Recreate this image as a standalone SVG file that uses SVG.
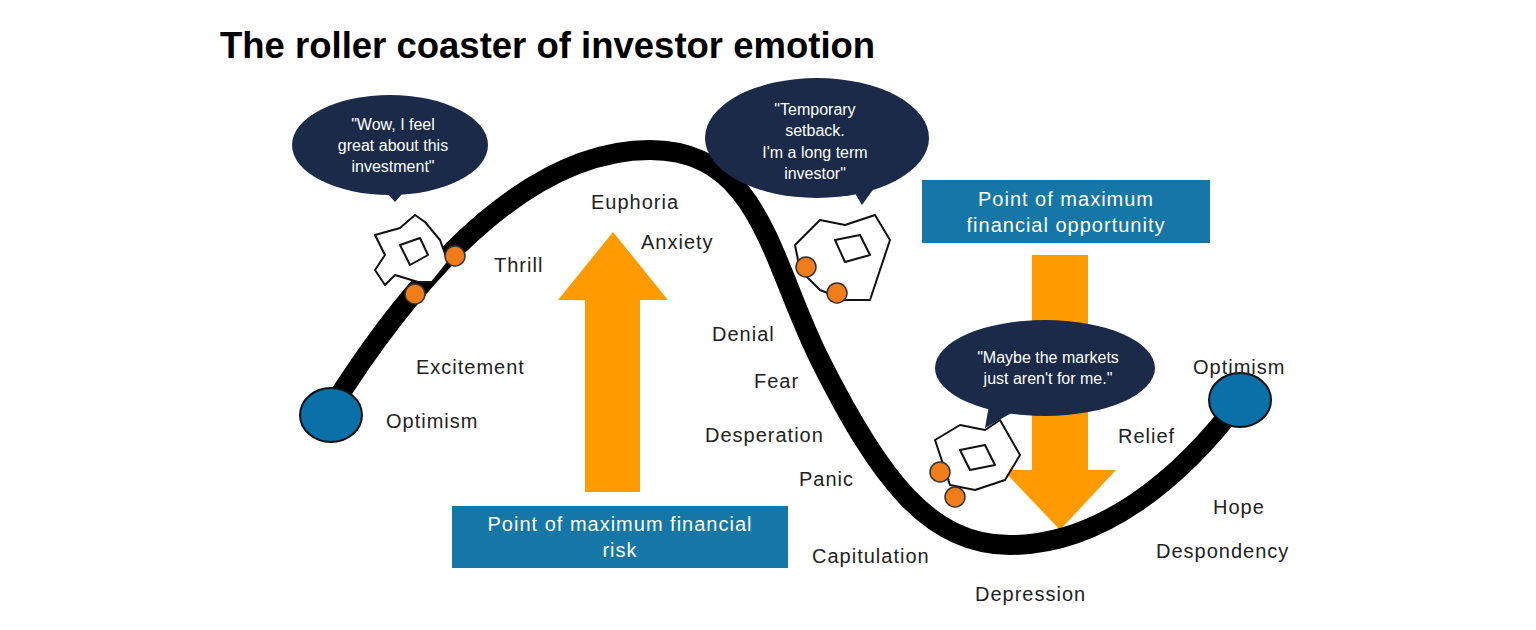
<svg xmlns="http://www.w3.org/2000/svg" width="1536" height="630" viewBox="0 0 1536 630">
<style>
.lbl{font-family:"Liberation Sans",Arial,sans-serif;font-size:20px;letter-spacing:1px;fill:#222}
.bub{fill:#1a2a48}
.bt{font-family:"Liberation Sans",Arial,sans-serif;font-size:16px;fill:#fff;text-anchor:middle}
.box{fill:#1576a8}
.boxt{font-family:"Liberation Sans",Arial,sans-serif;font-size:20px;letter-spacing:1px;fill:#fff;text-anchor:middle}
.arr{fill:#ff9a00}
.dot{fill:#f07d1a;stroke:#333;stroke-width:1.5}
.fig{fill:#fff;stroke:#111;stroke-width:2;stroke-linejoin:round}
.end{fill:#0b6fa8;stroke:#111;stroke-width:2}
</style>
<rect width="1536" height="630" fill="#fff"/>
<text x="220" y="58" font-family="Liberation Sans,Arial,sans-serif" font-size="36.5" font-weight="bold" fill="#000">The roller coaster of investor emotion</text>
<g id="arrows">
<path class="arr" d="M585,492 V300 H558 L613,232 L668,300 H640 V492 Z"/>
<path class="arr" d="M1032,255 V470 H1003 L1060,530 L1116,470 H1088 V255 Z"/>
</g>
<g id="connectors">
<path d="M330,410 C430,250 540,150 650,150 C760,150 770,260 820,360 C880,480 930,545 1010,545 C1100,545 1180,480 1240,400" fill="none" stroke="#000" stroke-width="20"/>
</g>
<g id="start"><ellipse class="end" cx="331" cy="415" rx="31" ry="27"/></g>
<g id="finish"><ellipse class="end" cx="1240" cy="400" rx="31" ry="27"/></g>
<g id="figures">
<path class="fig" d="M375,235 L400,228 L415,215 L425,222 L440,240 L448,262 L432,282 L418,282 L395,275 L385,285 L375,270 L385,255 Z"/>
<path class="fig" d="M400,245 L420,238 L428,255 L410,265 Z" fill="#222"/>
<path class="fig" d="M795,245 L820,220 L845,225 L875,215 L890,240 L880,270 L870,300 L845,300 L820,290 L800,270 Z"/>
<path class="fig" d="M835,240 L860,235 L870,255 L845,262 Z"/>
<path class="fig" d="M935,440 L960,425 L985,430 L1000,420 L1020,455 L1005,480 L975,490 L950,485 Z"/>
<path class="fig" d="M960,450 L985,445 L995,465 L970,470 Z" fill="#222"/>
</g>
<g id="dots">
<circle class="dot" cx="455" cy="256" r="10"/>
<circle class="dot" cx="415" cy="294" r="10"/>
<circle class="dot" cx="806" cy="267" r="10"/>
<circle class="dot" cx="837" cy="293" r="10"/>
<circle class="dot" cx="940" cy="472" r="10"/>
<circle class="dot" cx="955" cy="497" r="10"/>
</g>
<g id="bubble1">
<path class="bub" d="M395,202 L380,185 L410,185 Z"/>
<ellipse class="bub" cx="390" cy="145" rx="98" ry="50"/>
<text class="bt"><tspan x="393" y="130">"Wow, I feel</tspan><tspan x="393" y="151">great about  this</tspan><tspan x="393" y="172">investment"</tspan></text>
</g>
<g id="bubble2">
<path class="bub" d="M862,205 L850,185 L880,180 Z"/>
<ellipse class="bub" cx="817" cy="138" rx="112" ry="60"/>
<text class="bt"><tspan x="815" y="115">"Temporary</tspan><tspan x="815" y="136">setback.</tspan><tspan x="815" y="158">I'm a long term</tspan><tspan x="815" y="179">investor"</tspan></text>
</g>
<g id="bubble3">
<path class="bub" d="M985,428 L990,400 L1020,408 Z"/>
<ellipse class="bub" cx="1045" cy="368" rx="110" ry="48"/>
<text class="bt"><tspan x="1048" y="363">"Maybe the markets</tspan><tspan x="1048" y="384">just aren't for me."</tspan></text>
</g>
<g id="box-opportunity">
<rect class="box" x="922" y="180" width="288" height="63"/>
<text class="boxt"><tspan x="1066" y="206">Point of maximum</tspan><tspan x="1066" y="232">financial opportunity</tspan></text>
</g>
<g id="box-risk">
<rect class="box" x="452" y="506" width="336" height="62"/>
<text class="boxt"><tspan x="620" y="531">Point of maximum financial</tspan><tspan x="620" y="557">risk</tspan></text>
</g>
<g id="labels">
<text class="lbl" x="386" y="428">Optimism</text>
<text class="lbl" x="416" y="374">Excitement</text>
<text class="lbl" x="494" y="272">Thrill</text>
<text class="lbl" x="591" y="209">Euphoria</text>
<text class="lbl" x="641" y="249">Anxiety</text>
<text class="lbl" x="712" y="341">Denial</text>
<text class="lbl" x="754" y="388">Fear</text>
<text class="lbl" x="705" y="442">Desperation</text>
<text class="lbl" x="799" y="486">Panic</text>
<text class="lbl" x="812" y="563">Capitulation</text>
<text class="lbl" x="975" y="601">Depression</text>
<text class="lbl" x="1156" y="558">Despondency</text>
<text class="lbl" x="1213" y="514">Hope</text>
<text class="lbl" x="1118" y="443">Relief</text>
<text class="lbl" x="1193" y="374">Optimism</text>
</g>
</svg>
